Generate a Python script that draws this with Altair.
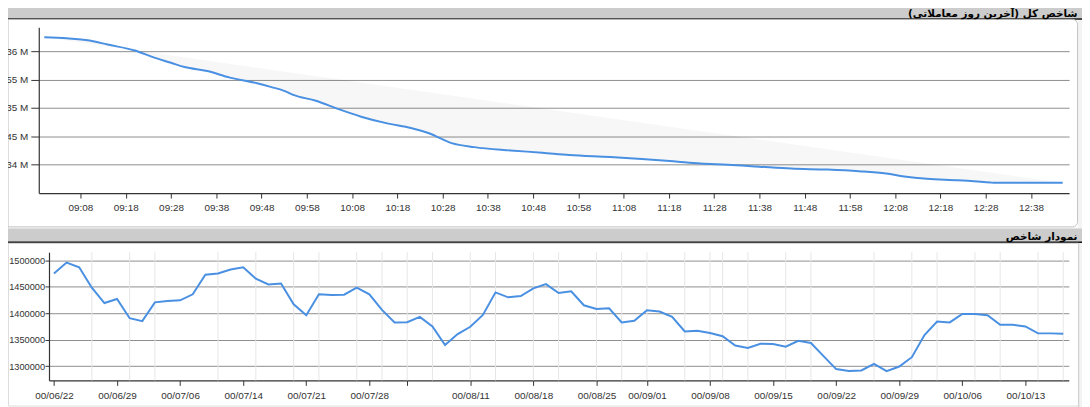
import altair as alt
import pandas as pd

# ---------------- data ----------------
# Top panel: index over the last trading day (time, value)
top_times = ["09:00", "09:05", "09:10", "09:14", "09:20", "09:24", "09:28", "09:31",
             "09:36", "09:41", "09:47", "09:50", "09:53", "09:55", "10:00", "10:05",
             "10:10", "10:16", "10:21", "10:25", "10:30", "10:35", "10:43", "10:50",
             "10:56", "11:05", "11:12", "11:19", "11:25", "11:31", "11:38", "11:45",
             "11:53", "12:00", "12:06", "12:10", "12:15", "12:22", "12:29", "12:30",
             "12:38", "12:45"]
top_values = [1362450, 1362270, 1361870, 1361170, 1360120, 1358950, 1357960, 1357200,
              1356500, 1355340, 1354350, 1353710, 1353010, 1352310, 1351260, 1349800,
              1348460, 1347240, 1346480, 1345550, 1343800, 1343100, 1342520, 1342110,
              1341700, 1341350, 1341000, 1340600, 1340200, 1340010, 1339660, 1339320,
              1339140, 1338850, 1338440, 1337920, 1337510, 1337280, 1336870, 1336810,
              1336810, 1336810]
top_tick_times = ["09:08", "09:18", "09:28", "09:38", "09:48", "09:58", "10:08", "10:18",
                  "10:28", "10:38", "10:48", "10:58", "11:08", "11:18", "11:28", "11:38",
                  "11:48", "11:58", "12:08", "12:18", "12:28", "12:38"]
top_y_ticks = [1340000, 1345000, 1350000, 1355000, 1360000]

# Bottom panel: index per trading day
bottom_values = [1475000, 1495700, 1486900, 1448200, 1419300, 1426800, 1390600, 1385000,
                 1420600, 1423100, 1424400, 1435700, 1472600, 1475000, 1482600, 1486900,
                 1465100, 1454400, 1456300, 1416900, 1396200, 1435700, 1434300, 1435000,
                 1448200, 1435700, 1406200, 1382600, 1383100, 1393100, 1375000, 1340000,
                 1360600, 1374300, 1396800, 1439400, 1430000, 1432500, 1446900, 1455000,
                 1438100, 1441300, 1415000, 1408100, 1409400, 1382600, 1385600, 1405600,
                 1403200, 1393100, 1365700, 1366800, 1362500, 1356500, 1339000, 1334500,
                 1342400, 1341800, 1336800, 1348000, 1343700, 1318800, 1294400, 1290600,
                 1291800, 1304300, 1290600, 1299300, 1316900, 1358700, 1384400, 1382600,
                 1398700, 1398700, 1396200, 1378100, 1378100, 1375000, 1361900, 1361900,
                 1361100]
bottom_tick_idx = [0, 5, 10, 15, 20, 25, 28, 33, 38, 43, 47, 52, 57, 62, 67, 72, 77]
bottom_tick_labels = ["00/06/22", "00/06/29", "00/07/06", "00/07/14", "00/07/21", "00/07/28",
                      "", "00/08/11", "00/08/18", "00/08/25", "00/09/01", "00/09/08",
                      "00/09/15", "00/09/22", "00/09/29", "00/10/06", "00/10/13"]
bottom_vgrid_idx = [3, 6, 8, 13, 16, 19, 21, 24, 26, 28, 30, 33, 35, 38, 40, 43, 45, 47,
                    50, 52, 53, 55, 58, 60, 65, 68, 70, 73, 75, 78, 80]
bottom_y_ticks = [1300000, 1350000, 1400000, 1450000, 1500000]

title_top = "شاخص کل (آخرین روز معاملاتی)"
title_bottom = "نمودار شاخص"

# ---------------- layout ----------------
W, H = 1082, 399
BLUE = "#4a90e2"
LABEL_FONT = "Liberation Sans"


def dt(hhmm, sec=0):
    h, m = hhmm.split(":")
    return alt.DateTime(year=2000, month=1, date=1, hours=int(h), minutes=int(m), seconds=sec)


axis_common = dict(labelFont=LABEL_FONT, labelColor="#333333",
                   tickColor="#333333", domainColor="#333333", domainWidth=1.2,
                   labelFlush=False, labelOverlap=False, title=None)

# ---- top panel ----
top_df = pd.DataFrame({"t": pd.to_datetime(["2000-01-01 " + s for s in top_times]),
                       "v": top_values})
tx = alt.X("t:T",
           scale=alt.Scale(domain=[dt("08:58", 47), dt("12:46", 25)], range=[31, 1069], nice=False),
           axis=alt.Axis(orient="bottom", offset=185 - H, values=[dt(s) for s in top_tick_times],
                         format="%H:%M", tickSize=5, labelPadding=5, labelFontSize=10,
                         grid=False, **axis_common))
ty = alt.Y("v:Q",
           scale=alt.Scale(domain=[1335000, 1364200], range=[185, 18], nice=False, zero=False),
           axis=alt.Axis(orient="left", offset=-31, values=top_y_ticks,
                         labelExpr="format(datum.value / 1000000, '.3~f') + ' M'",
                         tickSize=8, labelPadding=3, labelFontSize=10, grid=True,
                         gridColor="#8e8e8e", gridWidth=1, **axis_common))
top_fill = alt.Chart(top_df).mark_line(fill="#000000", fillOpacity=0.03, strokeOpacity=0,
                                       interpolate="monotone").encode(x=tx, y=ty)
top_line = alt.Chart(top_df).mark_line(color=BLUE, strokeWidth=2,
                                       interpolate="monotone").encode(x=tx, y=ty)
top_layer = alt.layer(top_fill, top_line)

# ---- bottom panel ----
bot_df = pd.DataFrame({"i": list(range(len(bottom_values))), "v": bottom_values})
lab_arr = "[" + ",".join("'" + s + "'" for s in bottom_tick_labels) + "]"
idx_arr = "[" + ",".join(str(i) for i in bottom_tick_idx) + "]"
bx = alt.X("i:Q",
           scale=alt.Scale(domain=[-0.393, 80.44], range=[41.3, 1068.7], nice=False, zero=False),
           axis=alt.Axis(orient="bottom", offset=373.7 - H, values=bottom_tick_idx,
                         labelExpr=lab_arr + "[indexof(" + idx_arr + ", datum.value)]",
                         tickSize=5, labelPadding=5, labelFontSize=10, grid=False, **axis_common))
by = alt.Y("v:Q",
           scale=alt.Scale(domain=[1273000, 1515400], range=[373.7, 244.5], nice=False, zero=False),
           axis=alt.Axis(orient="left", offset=-41.3, values=bottom_y_ticks, format="d",
                         tickSize=4, labelPadding=0.5, labelFontSize=9.3, grid=True,
                         gridColor="#8e8e8e", gridWidth=1, **axis_common))
vgrid = alt.Chart(pd.DataFrame({"i": bottom_vgrid_idx})).mark_rule(
    color="#e6e6e6", strokeWidth=1).encode(x=bx, y=alt.value(244.5), y2=alt.value(373.7))
bot_line = alt.Chart(bot_df).mark_line(color=BLUE, strokeWidth=2).encode(x=bx, y=by)
bottom_layer = alt.layer(vgrid, bot_line)

# ---- decoration: header bars, panel borders, titles ----
one = pd.DataFrame({"k": [0]})
base = alt.Chart(one)
side1 = base.mark_rect(color="#f3f3f3").encode(
    x=alt.value(1078), x2=alt.value(W + 5), y=alt.value(9), y2=alt.value(221))
side2 = base.mark_rect(color="#f3f3f3").encode(
    x=alt.value(1079.2), x2=alt.value(W + 5), y=alt.value(234), y2=alt.value(H + 5))
gap = base.mark_rect(color="#f3f3f3").encode(
    x=alt.value(-5), x2=alt.value(W + 5), y=alt.value(219.5), y2=alt.value(221))
bar1 = base.mark_rect(color="#cccccc").encode(
    x=alt.value(-5), x2=alt.value(W + 5), y=alt.value(-6), y2=alt.value(9))
bar1_line = base.mark_rule(color="#111111", strokeWidth=1.5).encode(
    x=alt.value(-5), x2=alt.value(W + 5), y=alt.value(9.6))
panel1 = base.mark_rect(fillOpacity=0, stroke="#c4c4c4", strokeWidth=1, cornerRadius=5).encode(
    x=alt.value(-10), x2=alt.value(1077.5), y=alt.value(10), y2=alt.value(219))
bar2 = base.mark_rect(color="#cccccc").encode(
    x=alt.value(-5), x2=alt.value(W + 5), y=alt.value(220.7), y2=alt.value(234.3))
bar2_line = base.mark_rule(color="#111111", strokeWidth=1.5).encode(
    x=alt.value(-5), x2=alt.value(W + 5), y=alt.value(234.6))
panel2 = base.mark_rect(fillOpacity=0, stroke="#c4c4c4", strokeWidth=1).encode(
    x=alt.value(-10), x2=alt.value(1078.7), y=alt.value(235.5), y2=alt.value(H + 10))
t1 = base.mark_text(text=title_top, align="right", baseline="alphabetic", font="DejaVu Sans",
                    fontSize=10.5, fontWeight="bold", color="#000000").encode(
    x=alt.value(1077.5), y=alt.value(7.5))
t2 = base.mark_text(text=title_bottom, align="right", baseline="alphabetic", font="DejaVu Sans",
                    fontSize=10.5, fontWeight="bold", color="#000000").encode(
    x=alt.value(1077.5), y=alt.value(232))

chart = alt.layer(
    side1, side2, gap, bar1, bar2, top_layer, bottom_layer, bar1_line, bar2_line,
    panel1, panel2, t1, t2
).resolve_scale(
    x="independent", y="independent"
).properties(
    width=W, height=H, autosize=alt.AutoSizeParams(type="none"), padding=0
).configure_view(strokeWidth=0).configure(background="#ffffff")

chart.save("out.html", embed_options={"renderer": "svg", "actions": False})
